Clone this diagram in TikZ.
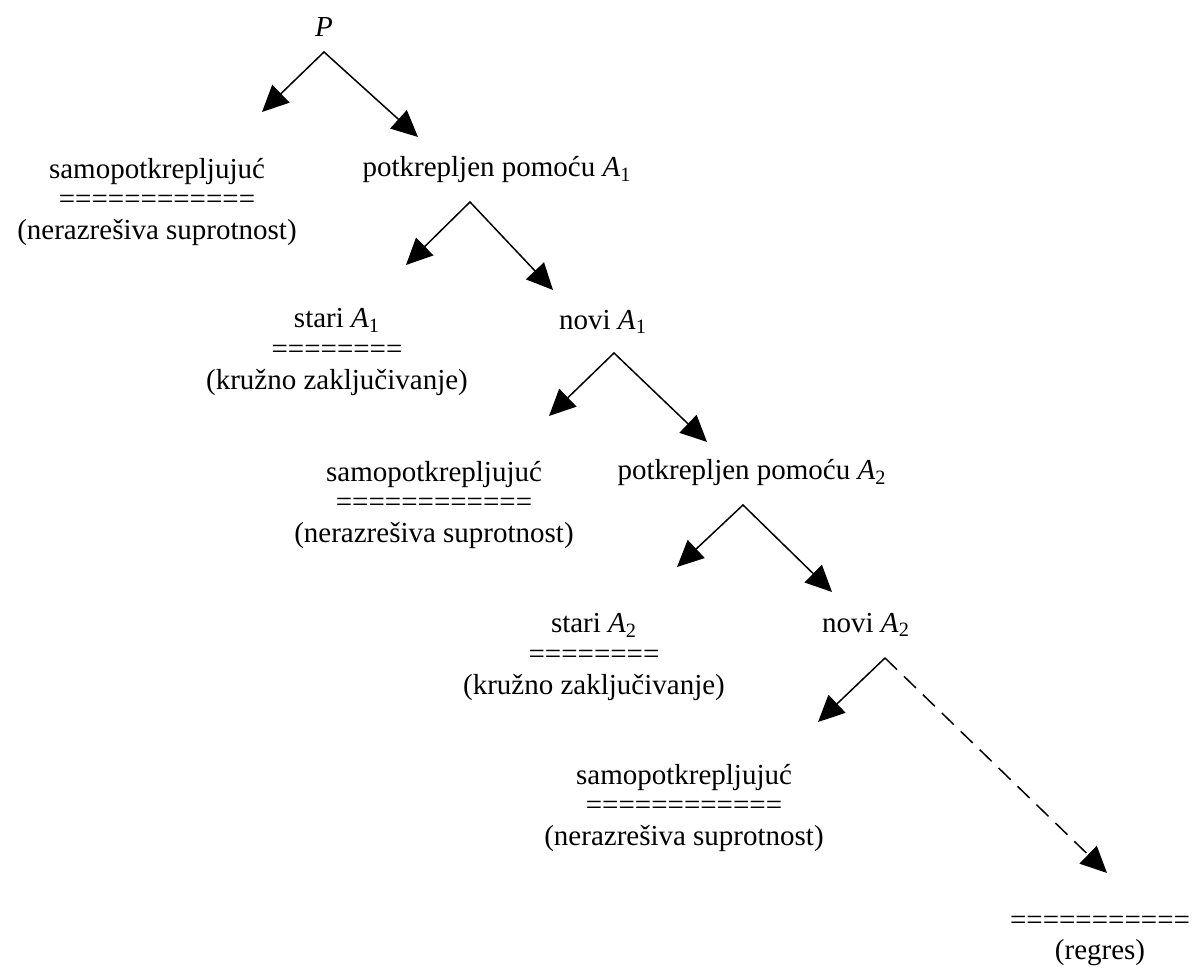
\documentclass[tikz,border=0pt]{standalone}
\usepackage{fontspec}
\setmainfont{Liberation Serif}
\usetikzlibrary{arrows.meta}
\tikzset{
  lbl/.style    = {font=\fontsize{16.5}{17.6}\selectfont, align=center, inner sep=0pt},
  fork/.style   = {{Triangle[length=15pt, width=14pt]}-{Triangle[length=15pt, width=14pt]}, line width=0.85pt, black},
  branch/.style = {-{Triangle[length=15pt, width=14pt]}, line width=0.85pt, black},
  regress/.style = {branch, dash pattern=on 9.5pt off 5.5pt},
}
\newcommand{\idx}[2]{\textit{#1}\textsubscript{#2}}

\begin{document}
\begin{tikzpicture}
  \useasboundingbox (0,0) rectangle (23.88,19.38);
  % labels
  \node[lbl] (P)     at (6.48,18.84) {\textit{P}};
  \node[lbl] (self1) at (3.14,15.34) {samopotkrepljujuć\\============\\(nerazrešiva suprotnost)};
  \node[lbl] (sup1)  at (9.94,15.98) {potkrepljen pomoću \idx{A}{1}};
  \node[lbl] (old1)  at (6.74,12.34) {stari \idx{A}{1}\\========\\(kružno zaključivanje)};
  \node[lbl] (new1)  at (12.06,12.94) {novi \idx{A}{1}};
  \node[lbl] (self2) at (8.68,9.28) {samopotkrepljujuć\\============\\(nerazrešiva suprotnost)};
  \node[lbl] (sup2)  at (15.04,9.92) {potkrepljen pomoću \idx{A}{2}};
  \node[lbl] (old2)  at (11.88,6.24) {stari \idx{A}{2}\\========\\(kružno zaključivanje)};
  \node[lbl] (new2)  at (17.32,6.88) {novi \idx{A}{2}};
  \node[lbl] (self3) at (13.68,3.22) {samopotkrepljujuć\\============\\(nerazrešiva suprotnost)};
  \node[lbl] (regr)  at (22.0,0.56) {===========\\(regres)};
  % fork points
  \coordinate (f1) at (6.48,18.34);  \coordinate (f1l) at (5.24,17.14);  \coordinate (f1r) at (8.36,16.64);
  \coordinate (f2) at (9.40,15.34);  \coordinate (f2l) at (8.12,14.08);  \coordinate (f2r) at (11.06,13.58);
  \coordinate (f3) at (12.28,12.32); \coordinate (f3l) at (10.98,11.06); \coordinate (f3r) at (14.14,10.54);
  \coordinate (f4) at (14.86,9.28);  \coordinate (f4l) at (13.54,8.04);  \coordinate (f4r) at (16.64,7.54);
  \coordinate (f5) at (17.70,6.22);  \coordinate (f5l) at (16.36,4.94);  \coordinate (f5r) at (22.14,1.92);
  % arrows
  \foreach \k in {1,...,4}
    \draw[fork] (f\k l) -- (f\k) -- (f\k r);
  \draw[branch] (f5) -- (f5l);
  \draw[regress] (f5) -- (f5r);
\end{tikzpicture}
\end{document}
